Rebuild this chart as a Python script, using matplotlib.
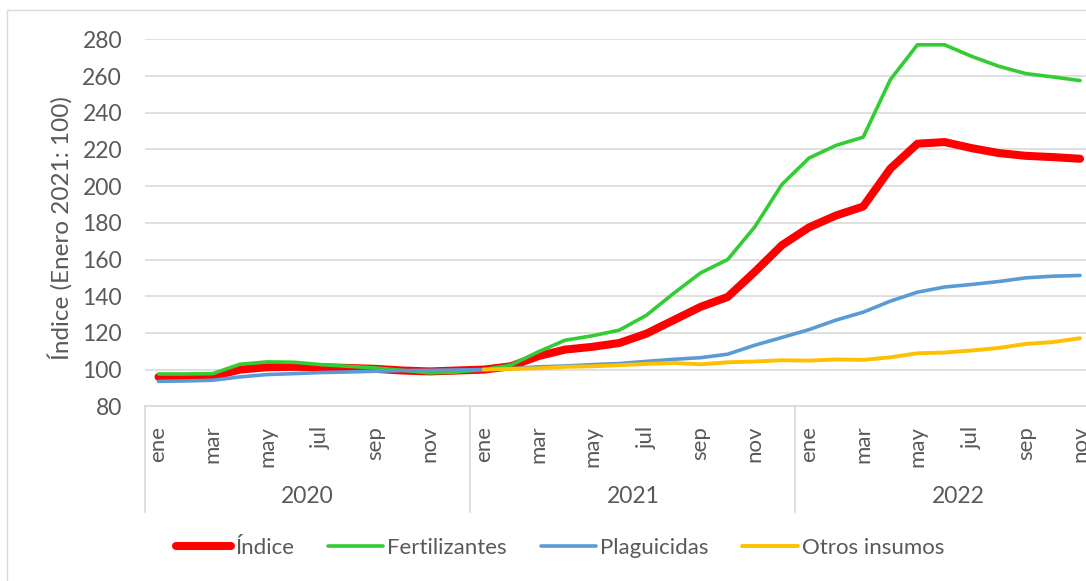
import numpy as np
import matplotlib
matplotlib.use("Agg")
import matplotlib.pyplot as plt
from matplotlib.transforms import blended_transform_factory
from matplotlib.patches import Rectangle

plt.rcParams['font.family'] = ['Lato', 'DejaVu Sans']

years = ["2020", "2021", "2022"]
month_names = ["ene", "feb", "mar", "abr", "may", "jun", "jul", "ago", "sep", "oct", "nov", "dic"]
n_months = 35  # ene 2020 .. nov 2022

indice = [96, 96, 96.3, 100, 101.3, 101.5, 101.3, 100.9, 100.4, 99.5, 99, 99.5,
          100, 101.8, 107.3, 110.9, 112.4, 114.5, 119.6, 126.9, 134.2, 139.6, 153.3, 167.8,
          177.5, 184, 188.9, 209.5, 223.1, 224, 220.7, 218, 216.5, 215.8, 214.9]
fertilizantes = [97.6, 97.6, 97.8, 102.9, 104.2, 104, 102.7, 101.8, 100.9, 99.6, 98.2, 98.7,
                 100, 102.4, 109.6, 116, 118.4, 121.5, 129.6, 141.5, 152.7, 160, 177.8, 200.9,
                 215.3, 222.2, 226.7, 258, 277, 277, 270.7, 265.3, 261.3, 259.5, 257.5]
plaguicidas = [93.6, 93.8, 94.2, 96, 97.3, 97.8, 98.4, 98.7, 99.1, 99.5, 99.6, 99.8,
               100, 100.5, 101.5, 102, 102.7, 103.3, 104.5, 105.6, 106.5, 108.4, 113.3, 117.5,
               121.8, 127, 131.3, 137.3, 142.2, 145, 146.4, 148, 150, 150.9, 151.3]
otros = [np.nan] * 12 + [100, 100.4, 100.7, 101.5, 101.8, 102.4, 103.1, 103.6, 102.9, 104, 104.4, 105.1,
                         104.9, 105.5, 105.3, 106.7, 108.9, 109.3, 110.4, 111.8, 114, 115, 117.1]

series_names = ["Índice", "Fertilizantes", "Plaguicidas", "Otros insumos"]
colors = ["#FF0000", "#33CC33", "#5B9BD5", "#FFC000"]
yticks = list(range(80, 281, 20))

TXT = "#595959"
GRID = "#D9D9D9"

W, H = 1086, 581
fig = plt.figure(figsize=(W / 100, H / 100), dpi=100)

# outer chart border
fig.patches.append(Rectangle((7 / W, -0.1), 1.2, (1 - 10 / H) + 0.1, transform=fig.transFigure,
                             fill=False, edgecolor=GRID, linewidth=1.0))

left = 145 / W
right = 1093.6 / W
bottom = 1 - 406.3 / H
top = 1 - 39.3 / H
ax = fig.add_axes([left, bottom, right - left, top - bottom])
ax_w_px = 1093.6 - 145
ax_h_px = 406.3 - 39.3

x = np.arange(n_months)
series = [indice, fertilizantes, plaguicidas, otros]
widths = [5.8, 2.6, 2.6, 2.8]
for s, c, lw, name, z in zip(series, colors, widths, series_names, [3, 4, 5, 6]):
    ax.plot(x, s, color=c, linewidth=lw, label=name, solid_capstyle="round",
            solid_joinstyle="round", zorder=z)

ax.set_xlim(-0.5, n_months - 0.5)
ax.set_ylim(80, 280)
ax.set_yticks(yticks)
ax.yaxis.grid(True, color=GRID, linewidth=1.2)
ax.set_axisbelow(True)
for sp in ["top", "right", "left"]:
    ax.spines[sp].set_visible(False)
ax.spines["bottom"].set_color(GRID)
ax.spines["bottom"].set_linewidth(1.2)

ax.tick_params(axis="y", length=0, pad=16.5, labelsize=16.5, labelcolor=TXT)
tick_pos = list(range(0, n_months, 2))
ax.set_xticks(tick_pos)
ax.set_xticklabels([month_names[p % 12] for p in tick_pos], rotation=90)
ax.tick_params(axis="x", length=0, pad=14, labelsize=16, labelcolor=TXT)

ax.set_ylabel("Índice (Enero 2021: 100)", fontsize=17.5, color=TXT)
ax.yaxis.set_label_coords(-(145 - 73) / ax_w_px, (406.3 - 228) / ax_h_px)

# category group separators and year labels
trans = blended_transform_factory(ax.transData, ax.transAxes)
sep_depth = (512 - 406.3) / ax_h_px
for k in range(len(years) + 1):
    xs = 12 * k - 0.5
    ax.plot([xs, xs], [0, -sep_depth], transform=trans, color=GRID, linewidth=1.2,
            clip_on=False)
year_y = -(497 - 406.3) / ax_h_px
for k, yname in enumerate(years):
    ax.text(12 * k + 5.5, year_y, yname, transform=trans, ha="center", va="center",
            fontsize=16.5, color=TXT)

leg = fig.legend(loc="center left", bbox_to_anchor=(176 / W, 1 - 548 / H), ncol=4,
                 frameon=False, fontsize=16, handlelength=2.48, handletextpad=0.18,
                 columnspacing=1.53, borderpad=0, borderaxespad=0)
for t in leg.get_texts():
    t.set_color(TXT)

fig.savefig("out.png", dpi=100)
